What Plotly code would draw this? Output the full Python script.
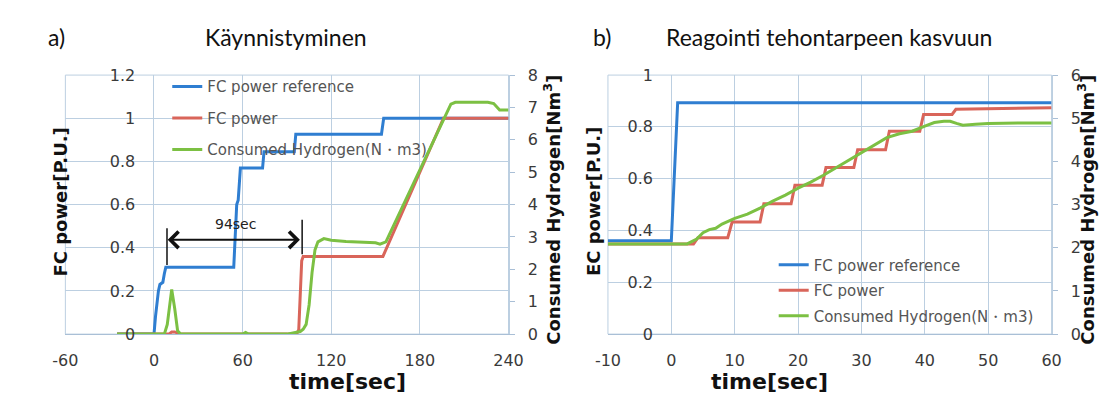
import plotly.graph_objects as go

# ---------------- data: chart a) start-up ----------------
t_ref_a = [-25, 0, 1, 2, 3, 4, 6, 7, 8, 54, 55, 56, 57, 58.5, 73.5, 74.5, 95, 96, 154, 155.5, 240]
p_ref_a = [0, 0, 0.08, 0.16, 0.2, 0.23, 0.24, 0.28, 0.31, 0.31, 0.45, 0.6, 0.62, 0.77, 0.77, 0.845, 0.845, 0.926, 0.926, 1.0, 1.0]

t_pow_a = [-25, 10, 12, 14, 18, 20, 96.5, 98, 100, 101, 155, 196, 240]
p_pow_a = [0, 0, 0.01, 0.01, 0, 0, 0, 0.02, 0.34, 0.36, 0.36, 1.0, 1.0]

t_h2_a = [-25, 7, 9, 11, 12, 14, 16, 18, 60, 62, 64, 90, 96, 99, 101, 103, 105, 107, 109, 111, 115, 120, 130, 140, 150, 153,
          157, 201, 204, 226, 230, 234, 240]
h2_a = [0, 0, 0.3, 1.1, 1.38, 0.8, 0.1, 0, 0, 0.05, 0, 0, 0.05, 0.08, 0.15, 0.3, 0.9, 1.9, 2.6, 2.85, 2.95, 2.9, 2.86, 2.84, 2.82, 2.78,
        2.85, 7.1, 7.16, 7.16, 7.12, 6.92, 6.92]

# ---------------- data: chart b) response to load increase ----------------
t_ref_b = [-10, 0, 1, 60]
p_ref_b = [0.36, 0.36, 0.893, 0.893]

t_pow_b = [-10, 3.5, 4.2, 8.9, 9.6, 14, 14.6, 18.9, 19.5, 23.8, 24.4, 28.8, 29.4, 33.8, 34.4, 39.2, 39.8, 44.3, 44.9, 60]
p_pow_b = [0.348, 0.348, 0.372, 0.372, 0.433, 0.433, 0.503, 0.503, 0.575, 0.575, 0.643, 0.643, 0.712, 0.712, 0.783, 0.783,
           0.848, 0.848, 0.868, 0.874]

t_h2_b = [-10, 2.5, 4, 5, 6, 7, 8, 9, 10, 12, 14, 16, 18, 20, 22, 24, 26, 28, 30, 32, 34, 36, 38, 40, 41.5, 43, 44, 45, 46, 48, 50, 55, 60]
h2_b = [2.09, 2.09, 2.2, 2.35, 2.42, 2.45, 2.55, 2.62, 2.68, 2.78, 2.92, 3.08, 3.22, 3.38, 3.52, 3.68, 3.85, 4.02, 4.2, 4.38, 4.55,
        4.64, 4.7, 4.82, 4.9, 4.93, 4.93, 4.88, 4.84, 4.86, 4.88, 4.89, 4.89]

x_ticks_a = [-60, 0, 60, 120, 180, 240]
x_labels_a = ["-60", "0", "60", "120", "180", "240"]
x_ticks_b = [-10, 0, 10, 20, 30, 40, 50, 60]
x_labels_b = ["-10", "0", "10", "20", "30", "40", "50", "60"]

names = ["FC power reference", "FC power", "Consumed Hydrogen(N\u30fbm3)"]
colors = ["#2f7ed1", "#d9655a", "#7cc043"]

W, H = 1120, 398
def px(x):
    return x / W
def py(y):
    return (H - y) / H

GRID = "#bccfe1"
TICKF = dict(family="DejaVu Sans", size=16, color="#3a3a3a")

fig = go.Figure()

# chart a
fig.add_trace(go.Scatter(x=t_ref_a, y=p_ref_a, name=names[0], mode="lines", line=dict(color=colors[0], width=3),
                         xaxis="x", yaxis="y", legend="legend", legendgroup="a1"))
fig.add_trace(go.Scatter(x=t_pow_a, y=p_pow_a, name=names[1], mode="lines", line=dict(color=colors[1], width=3),
                         xaxis="x", yaxis="y", legend="legend", legendgroup="a2"))
fig.add_trace(go.Scatter(x=t_h2_a, y=h2_a, name=names[2], mode="lines", line=dict(color=colors[2], width=3),
                         xaxis="x", yaxis="y2", legend="legend", legendgroup="a3"))
# chart b
fig.add_trace(go.Scatter(x=t_ref_b, y=p_ref_b, name=names[0], mode="lines", line=dict(color=colors[0], width=3),
                         xaxis="x2", yaxis="y3", legend="legend2", legendgroup="b1"))
fig.add_trace(go.Scatter(x=t_pow_b, y=p_pow_b, name=names[1], mode="lines", line=dict(color=colors[1], width=3),
                         xaxis="x2", yaxis="y3", legend="legend2", legendgroup="b2"))
fig.add_trace(go.Scatter(x=t_h2_b, y=h2_b, name=names[2], mode="lines", line=dict(color=colors[2], width=3),
                         xaxis="x2", yaxis="y4", legend="legend2", legendgroup="b3"))

xd_a = [px(45.5), px(500)]
xd_b = [px(602), px(1057)]
yd = [py(333), py(61)]

def xax(dom, rng, ticks, labels, anchor):
    return dict(domain=dom, range=rng, tickvals=ticks, ticktext=labels, anchor=anchor, showgrid=True, gridcolor=GRID,
                gridwidth=1, zeroline=False, showline=True, linecolor="#a9bfd6", linewidth=1, ticks="", tickfont=TICKF,
                ticklabelstandoff=12, fixedrange=True)

def yleft(rng, dtick, pos):
    return dict(domain=yd, range=rng, dtick=dtick, anchor="free", position=pos, showgrid=True, gridcolor=GRID,
                gridwidth=1, zeroline=False, showline=False, ticks="", tickfont=TICKF, ticklabelstandoff=19,
                fixedrange=True)

def yright(rng, overl, anchor):
    return dict(domain=yd, range=rng, dtick=1, overlaying=overl, anchor=anchor, side="right", showgrid=False,
                zeroline=False, showline=True, linecolor=GRID, ticks="outside", ticklen=5, tickcolor="#a9bfd6",
                tickfont=TICKF, ticklabelstandoff=10, fixedrange=True)

LEGF = dict(family="DejaVu Sans", size=15, color="#555555")
fig.update_layout(
    width=W, height=H, margin=dict(l=0, r=0, t=0, b=0),
    paper_bgcolor="white", plot_bgcolor="white",
    xaxis=xax(xd_a, [-60, 240], x_ticks_a, x_labels_a, "y"),
    yaxis=yleft([0, 1.2], 0.2, px(136.7)),
    yaxis2=yright([0, 8], "y", "x"),
    xaxis2=xax(xd_b, [-10, 60], x_ticks_b, x_labels_b, "y3"),
    yaxis3=yleft([0, 1], 0.2, px(667.7)),
    yaxis4=yright([0, 6], "y3", "x2"),
    legend=dict(x=px(150), y=py(56), xanchor="left", yanchor="top", bgcolor="rgba(255,255,255,0)",
                font=LEGF, traceorder="grouped", tracegroupgap=9, itemwidth=30),
    legend2=dict(x=px(772), y=py(243), xanchor="left", yanchor="top", bgcolor="rgba(255,255,255,0)",
                 font=LEGF, traceorder="grouped", tracegroupgap=3, itemwidth=30),
    showlegend=True,
)

# frames around plot areas
for xr, yr in (("x domain", "y domain"), ("x2 domain", "y3 domain")):
    fig.add_shape(type="rect", xref=xr, yref=yr, x0=0, x1=1, y0=0, y1=1, line=dict(color=GRID, width=1), layer="below")

ann = []
TT = dict(family="Lato", size=23, color="#111111")
ann.append(dict(text="a)", x=px(26), y=py(21), xref="paper", yref="paper", xanchor="left", yanchor="middle", showarrow=False, font=TT))
ann.append(dict(text="Käynnistyminen", x=px(272), y=py(21), xref="paper", yref="paper", xanchor="center", yanchor="middle", showarrow=False, font=TT))
ann.append(dict(text="b)", x=px(585), y=py(21), xref="paper", yref="paper", xanchor="left", yanchor="middle", showarrow=False, font=TT))
ann.append(dict(text="Reagointi tehontarpeen kasvuun", x=px(829), y=py(21), xref="paper", yref="paper", xanchor="center", yanchor="middle", showarrow=False, font=TT))

BF = dict(family="DejaVu Sans", size=22, color="#111111")
YF = dict(family="DejaVu Sans", size=18, color="#111111")
ann.append(dict(text="<b>time[sec]</b>", x=px(272.7), y=py(383), xref="paper", yref="paper", showarrow=False, font=BF, yanchor="middle"))
ann.append(dict(text="<b>time[sec]</b>", x=px(829.5), y=py(383), xref="paper", yref="paper", showarrow=False, font=BF, yanchor="middle"))
ann.append(dict(text="<b>FC power[P.U.]</b>", x=px(28), y=py(194), xref="paper", yref="paper", showarrow=False, font=YF, textangle=-90))
ann.append(dict(text="<b>EC power[P.U.]</b>", x=px(587), y=py(194), xref="paper", yref="paper", showarrow=False, font=YF, textangle=-90))
ann.append(dict(text="<b>Consumed Hydrogen[Nm<sup>3</sup>]</b>", x=px(545), y=py(202), xref="paper", yref="paper", showarrow=False, font=YF, textangle=-90))
ann.append(dict(text="<b>Consumed Hydrogen[Nm<sup>3</sup>]</b>", x=px(1107), y=py(202), xref="paper", yref="paper", showarrow=False, font=YF, textangle=-90))

# 94 sec dimension annotation
ann.append(dict(text="94sec", x=55, y=0.51, xref="x", yref="y", showarrow=False,
                font=dict(family="DejaVu Sans", size=14, color="#222222")))
ann.append(dict(text="", x=9.3, y=0.437, ax=99.8, ay=0.437, xref="x", yref="y", axref="x", ayref="y",
                showarrow=True, arrowhead=4, arrowside="end+start", arrowsize=1.6, arrowwidth=2, arrowcolor="#111111"))
fig.add_shape(type="line", xref="x", yref="y", x0=8.8, x1=8.8, y0=0.32, y1=0.49, line=dict(color="#111111", width=1.5))
fig.add_shape(type="line", xref="x", yref="y", x0=100.3, x1=100.3, y0=0.37, y1=0.53, line=dict(color="#111111", width=1.5))

fig.update_layout(annotations=ann)
fig.write_html("out.html")
